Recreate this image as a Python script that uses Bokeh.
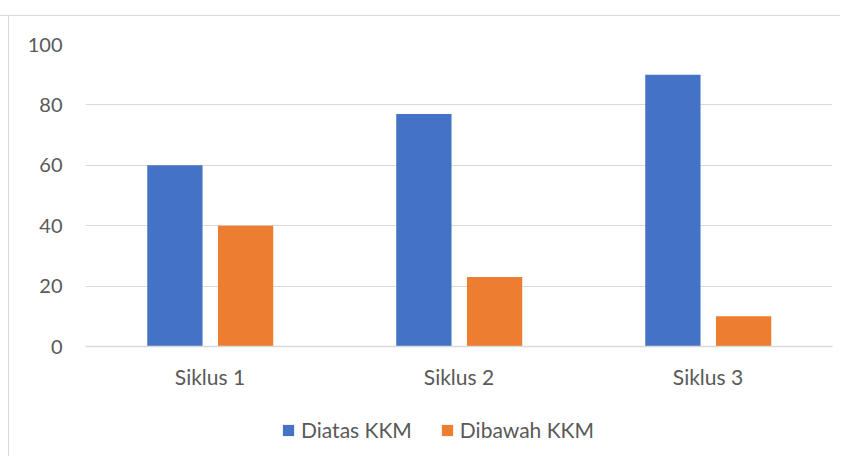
from bokeh.plotting import figure
from bokeh.models import ColumnDataSource, FactorRange, Legend, LegendItem, FixedTicker, Range1d
from bokeh.layouts import column
from bokeh.embed import file_html
from bokeh.resources import INLINE
from bokeh.transform import dodge

categories = ["Siklus 1", "Siklus 2", "Siklus 3"]
diatas = [60, 77, 90]
dibawah = [40, 23, 10]
series_names = ["Diatas KKM", "Dibawah KKM"]
y_ticks = [0, 20, 40, 60, 80, 100]

FONT = "Lato"
TEXT = "#595959"
GRID = "#d9d9d9"
BLUE = "#4472C4"
ORANGE = "#ED7D31"

src = ColumnDataSource(dict(cat=categories, diatas=diatas, dibawah=dibawah))

p = figure(x_range=FactorRange(*categories), y_range=(0, 100),
           width=840, height=400, output_backend="svg", toolbar_location=None,
           min_border_left=85, min_border_right=8, min_border_top=44, min_border_bottom=54)
p.outline_line_color = None
p.border_fill_color = None

p.vbar(x=dodge("cat", -0.141, range=p.x_range), top="diatas", width=0.222,
       source=src, fill_color=BLUE, line_color=None)
p.vbar(x=dodge("cat", 0.143, range=p.x_range), top="dibawah", width=0.222,
       source=src, fill_color=ORANGE, line_color=None)

p.xgrid.grid_line_color = None
p.ygrid.grid_line_color = GRID
p.ygrid.grid_line_width = 1
p.yaxis.ticker = FixedTicker(ticks=y_ticks)
p.yaxis.axis_line_color = None
p.yaxis.major_tick_line_color = None
p.yaxis.minor_tick_line_color = None
p.yaxis.major_label_standoff = 17
p.yaxis.major_label_text_font = FONT
p.yaxis.major_label_text_font_size = "20px"
p.yaxis.major_label_text_color = TEXT

p.xaxis.axis_line_color = GRID
p.xaxis.axis_line_width = 1.5
p.xaxis.major_tick_line_color = None
p.xaxis.minor_tick_line_color = None
p.xaxis.major_label_standoff = 11
p.xaxis.major_label_text_font = FONT
p.xaxis.major_label_text_font_size = "21px"
p.xaxis.major_label_text_color = TEXT

# legend strip below the chart
lf = figure(x_range=FactorRange(*categories), y_range=Range1d(0, 100),
            width=840, height=56, output_backend="svg", toolbar_location=None,
            x_axis_type=None, y_axis_type=None,
            min_border=0, min_border_left=0, min_border_right=0,
            min_border_top=0, min_border_bottom=0)
lf.outline_line_color = None
lf.border_fill_color = None
lf.background_fill_color = None
lf.grid.visible = False
l1 = lf.vbar(x="cat", top="diatas", width=0.2, source=src, fill_color=BLUE, line_color=None, visible=False)
l2 = lf.vbar(x="cat", top="dibawah", width=0.2, source=src, fill_color=ORANGE, line_color=None, visible=False)

legend = Legend(items=[LegendItem(label=series_names[0], renderers=[l1]),
                       LegendItem(label=series_names[1], renderers=[l2])],
                orientation="horizontal", location=(196, 14))
legend.border_line_color = None
legend.background_fill_alpha = 0
legend.inactive_fill_alpha = 0
legend.padding = 0
legend.margin = 0
legend.spacing = 28
legend.glyph_width = 14
legend.glyph_height = 14
legend.label_standoff = 6
legend.label_text_font = FONT
legend.label_text_font_size = "21px"
legend.label_text_color = TEXT
lf.add_layout(legend, "center")

frame_lines = ("linear-gradient(#d9d9d9,#d9d9d9) 0 15px/100% 1px no-repeat, "
               "linear-gradient(#d9d9d9,#d9d9d9) 8px 15px/1px 100% no-repeat, #ffffff")
layout = column(p, lf, spacing=0, styles={"background": frame_lines})

open("out.html", "w").write(file_html(layout, INLINE))
